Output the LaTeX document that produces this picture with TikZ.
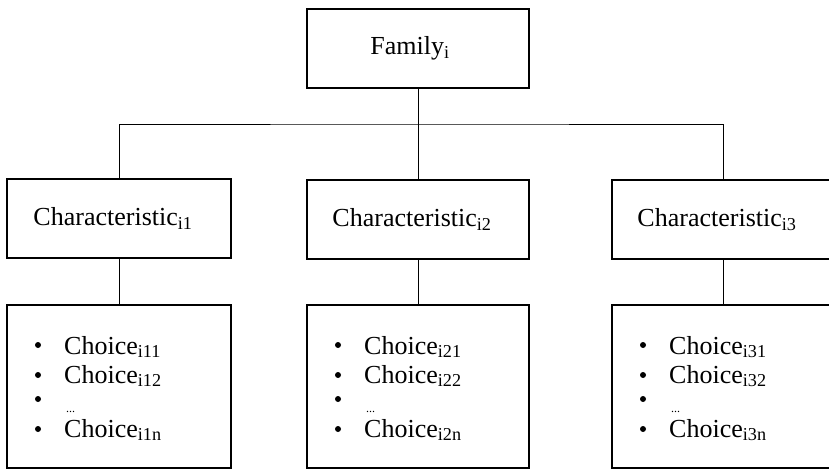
\documentclass[tikz,border=0pt]{standalone}
\usepackage{fontspec}
\setmainfont{Liberation Serif}
\begin{document}
\begin{tikzpicture}[x=1pt,y=-1pt,
  box/.style={draw, line width=1.6pt, minimum width=222pt, minimum height=79pt, inner sep=0pt, font=\fontsize{26}{30}\selectfont},
  conn/.style={line width=0.9pt},
  lbl/.style={anchor=base west, inner sep=0pt, font=\fontsize{26}{30}\selectfont},
  bul/.style={circle, fill=black, inner sep=0pt, minimum size=6pt},
  dots/.style={anchor=base west, inner sep=0pt, font=\fontsize{12}{14}\selectfont}]
\useasboundingbox (0,0) rectangle (829,470);
\fill[white] (0,0) rectangle (829,470);
\node[box] (fam) at (418,48.5) {Family\textsubscript{i}\hspace*{16pt}};
\node[box, minimum width=224pt] (c1) at (119,218.5) {Characteristic\textsubscript{i1}\hspace*{12pt}};
\node[box] (c2) at (418,219.5) {Characteristic\textsubscript{i2}\hspace*{12pt}};
\node[box] (c3) at (723,219.5) {Characteristic\textsubscript{i3}\hspace*{12pt}};
\node[box, minimum width=224pt, minimum height=163pt] (h1) at (119,386.5) {};
\node[box, minimum height=163pt] (h2) at (418,386.5) {};
\node[box, minimum height=163pt] (h3) at (723,386.5) {};
\foreach \k/\L in {1/7,2/307,3/612}{
  \node[bul] (b\k1) at (\L+31,345) {};
  \node[bul] (b\k2) at (\L+31,375) {};
  \node[bul] (b\k3) at (\L+31,399) {};
  \node[bul] (b\k4) at (\L+31,429) {};
  \node[lbl] (t\k1) at (\L+57,354) {Choice\textsubscript{i\k1}};
  \node[lbl] (t\k2) at (\L+57,383) {Choice\textsubscript{i\k2}};
  \node[dots] (d\k) at (\L+59,412) {...};
  \node[lbl] (t\k4) at (\L+57,437) {Choice\textsubscript{i\k n}};
}
\coordinate (hub) at (418,124);
\draw[conn] (fam.south) -- (hub);
\draw[conn] (c1.north) |- (hub) -| (c3.north);
\draw[conn] (hub) -- (c2.north);
\draw[conn] (c1.south) -- (h1.north);
\draw[conn] (c2.south) -- (h2.north);
\draw[conn] (c3.south) -- (h3.north);
\end{tikzpicture}
\end{document}
